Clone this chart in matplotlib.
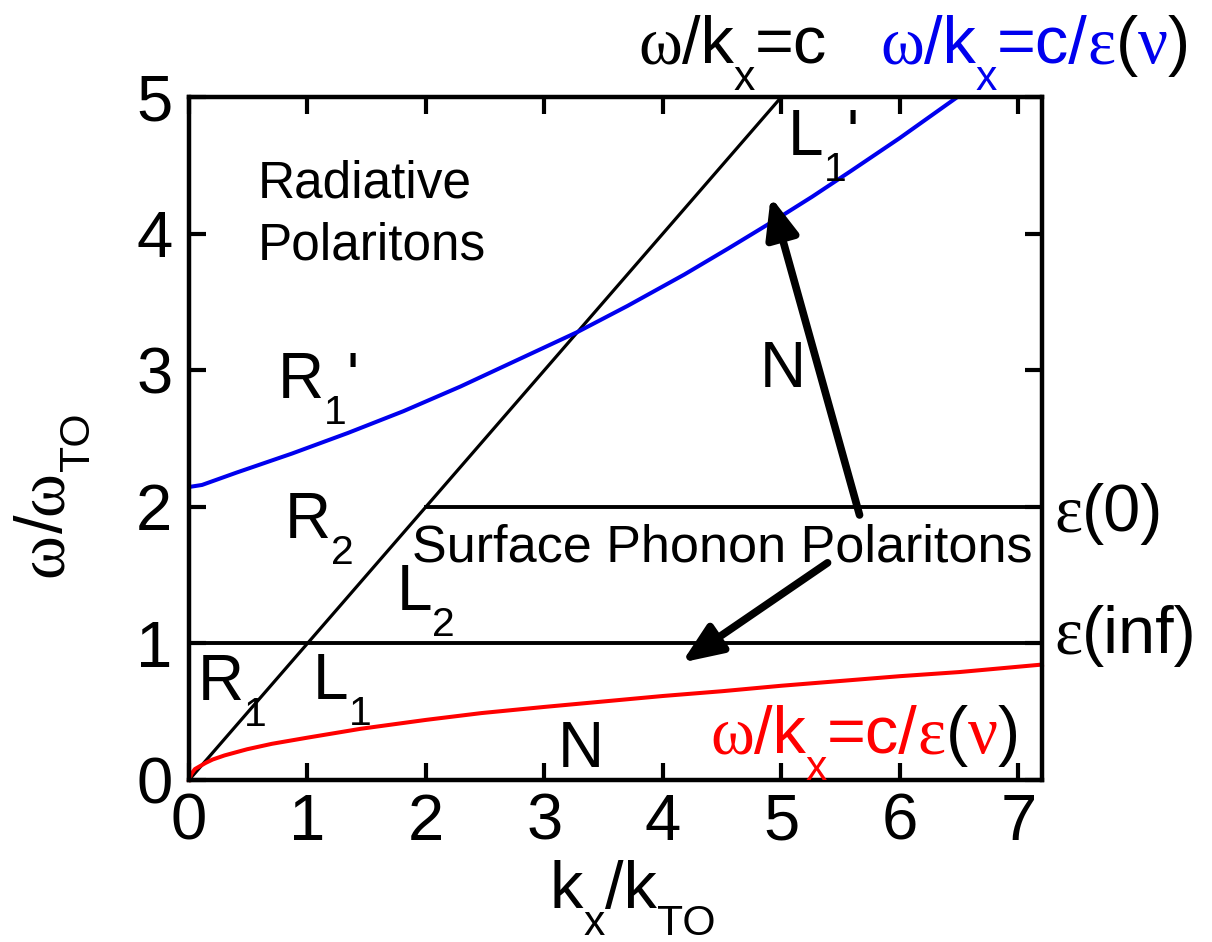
import matplotlib
matplotlib.use("Agg")
import matplotlib.pyplot as plt
from matplotlib import transforms as mtrans

SANS = 'Liberation Sans'
SERIF = 'Liberation Serif'
plt.rcParams['font.family'] = [SANS, 'DejaVu Sans']

# light line omega = c k
light_k = [0, 5]
light_w = [0, 5]
# blue curve omega/k = c/eps(nu)
blue_k = [0, 0.11, 0.4, 0.87, 1.34, 1.81, 2.29, 2.76, 3.28, 3.70, 4.18, 4.55, 4.93, 5.26, 5.59, 6.0, 6.47]
blue_w = [2.145, 2.16, 2.25, 2.39, 2.54, 2.70, 2.88, 3.07, 3.28, 3.47, 3.70, 3.89, 4.09, 4.27, 4.46, 4.70, 4.99]
# red curve
red_k = [0, 0.02, 0.05, 0.09, 0.14, 0.2, 0.3, 0.49, 0.7, 1.0, 1.45, 2.0, 2.47, 3.0, 3.5, 4.0,
         4.5, 5.0, 5.5, 6.0, 6.5, 7.2]
red_w = [0, 0.045, 0.08, 0.10, 0.125, 0.15, 0.18, 0.225, 0.265, 0.31, 0.375, 0.44, 0.49, 0.535,
         0.575, 0.615, 0.65, 0.69, 0.725, 0.76, 0.79, 0.845]
# horizontal limits
eps0_k = [2, 7.2]
eps0_w = [2, 2]
epsinf_k = [0, 7.2]
epsinf_w = [1, 1]

xticks = [0, 1, 2, 3, 4, 5, 6, 7]
yticks = [0, 1, 2, 3, 4, 5]

W, H = 1212, 942
fig = plt.figure(figsize=(W / 100, H / 100), dpi=100)
ax = fig.add_axes([189 / W, 1 - 780 / H, (1042 - 189) / W, (780 - 97) / H])

BLUE = '#0000ee'
RED = '#ff0000'
ax.plot(light_k, light_w, color='black', lw=2.3)
ax.plot(eps0_k, eps0_w, color='black', lw=2.8)
ax.plot(epsinf_k, epsinf_w, color='black', lw=2.8)
ax.plot(blue_k, blue_w, color=BLUE, lw=2.9, solid_joinstyle='round')
ax.plot(red_k, red_w, color=RED, lw=2.9, clip_on=False, solid_joinstyle='round')

ax.set_xlim(0, 7.2)
ax.set_ylim(0, 5)
ax.set_xticks(xticks)
ax.set_yticks(yticks)
ax.tick_params(direction='in', length=12, width=3, labelsize=47, top=True, right=True)
ax.tick_params(axis='x', pad=9)
ax.tick_params(axis='y', pad=12)
for s in ax.spines.values():
    s.set_linewidth(3.2)

arrow = dict(arrowstyle='-|>,head_length=1.1,head_width=0.45', lw=5.5, color='black',
             mutation_scale=22, shrinkA=0, shrinkB=0, capstyle='round')
ax.annotate('', xy=(4.91, 4.27), xytext=(5.66, 1.94), arrowprops=arrow)
ax.annotate('', xy=(4.16, 0.86), xytext=(5.39, 1.59), arrowprops=arrow)

R = fig.canvas.get_renderer()


def rich(xp, yp, pieces, size, rot=0):
    """Draw text pieces (text, kind, colour) one after another from pixel (xp, yp), baseline."""
    fx, fy = xp / W, 1 - yp / H
    adv = 0.0
    for txt, kind, col in pieces:
        if kind == 'sub':
            fs, fam, drop = size * 0.64, SANS, size * 0.40
        elif kind == 'g':
            fs, fam, drop = size, SERIF, 0.0
        else:
            fs, fam, drop = size, SANS, 0.0
        if rot == 0:
            dx, dy = adv, -drop
        else:
            dx, dy = drop, adv
        tr = mtrans.offset_copy(fig.transFigure, fig=fig, x=dx, y=dy, units='points')
        t = fig.text(fx, fy, txt, fontsize=fs, family=fam, color=col, transform=tr,
                     ha='left', va='baseline', rotation=rot, rotation_mode='anchor')
        bb = t.get_window_extent(R)
        adv += (bb.width if rot == 0 else bb.height) * 72 / fig.dpi


K = 'black'
big = 46
rich(278, 398, [('R', 'n', K), ('1', 'sub', K), ("'", 'n', K)], big)
rich(788, 155, [('L', 'n', K), ('1', 'sub', K), ("'", 'n', K)], big)
rich(760, 387, [('N', 'n', K)], big)
rich(285, 538, [('R', 'n', K), ('2', 'sub', K)], big)
rich(397, 610, [('L', 'n', K), ('2', 'sub', K)], big)
rich(198, 700, [('R', 'n', K), ('1', 'sub', K)], big)
rich(313, 699, [('L', 'n', K), ('1', 'sub', K)], big)
rich(558, 767, [('N', 'n', K)], big)

fig.text(258 / W, 1 - 197 / H, 'Radiative', fontsize=37, ha='left', va='baseline')
fig.text(258 / W, 1 - 260 / H, 'Polaritons', fontsize=37, ha='left', va='baseline')
fig.text(412 / W, 1 - 562 / H, 'Surface Phonon Polaritons', fontsize=37.5, ha='left', va='baseline')

rich(1054, 531, [('\u03b5', 'g', K), ('(0)', 'n', K)], 48)
rich(1054, 653, [('\u03b5', 'g', K), ('(inf)', 'n', K)], 48)

rich(638, 63, [('\u03c9', 'g', K), ('/k', 'n', K), ('x', 'sub', K), ('=c', 'n', K)], 48)
rich(880, 63, [('\u03c9', 'g', BLUE), ('/k', 'n', BLUE), ('x', 'sub', BLUE), ('=c/', 'n', BLUE),
               ('\u03b5', 'g', BLUE), ('(', 'n', K), ('\u03bd', 'g', BLUE), (')', 'n', K)], 48)
rich(710, 753, [('\u03c9', 'g', RED), ('/k', 'n', RED), ('x', 'sub', RED), ('=c/', 'n', RED),
                ('\u03b5', 'g', RED), ('(', 'n', K), ('\u03bd', 'g', RED), (')', 'n', K)], 48)

# axis labels
rich(550, 908, [('k', 'n', K), ('x', 'sub', K), ('/k', 'n', K), ('TO', 'sub', K)], 48)
rich(62, 577, [('\u03c9', 'g', K), ('/', 'n', K), ('\u03c9', 'g', K), ('TO', 'sub', K)], 48, rot=90)

fig.savefig('out.png', dpi=100)
